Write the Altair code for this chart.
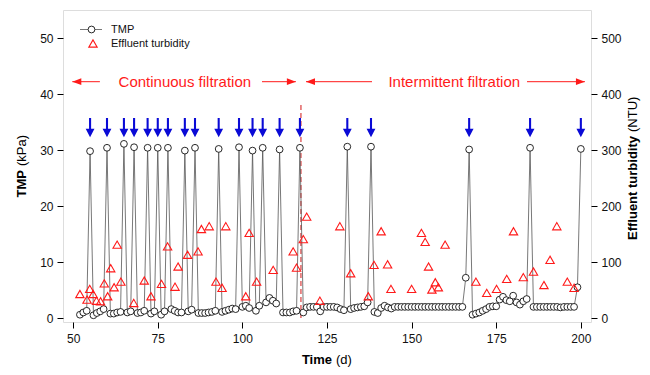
import altair as alt
import pandas as pd

# ---------------- data ----------------
days = list(range(52, 201))
tmp = [
    0.6, 1.0, 1.3, 29.8, 0.5, 0.9, 1.2, 1.6, 30.4, 0.8,      # 52-61
    0.8, 1.0, 1.1, 31.1, 1.0, 1.2, 30.5, 0.9, 1.0, 1.3,      # 62-71
    30.4, 0.8, 1.2, 30.4, 0.6, 1.2, 30.4, 1.6, 1.3, 1.0,     # 72-81
    1.0, 29.9, 1.2, 1.5, 30.4, 0.9, 0.9, 0.9, 1.0, 1.1,      # 82-91
    1.3, 30.2, 1.1, 1.3, 1.5, 1.7, 1.6, 30.5, 2.0, 2.2,      # 92-101
    1.8, 29.9, 1.3, 2.2, 30.4, 2.8, 3.6, 3.1, 2.6, 30.1,     # 102-111
    1.0, 1.0, 1.0, 1.2, 1.3, 30.4, 1.0, 1.9, 2.0, 2.0,       # 112-121
    2.0, 1.2, 2.0, 2.0, 2.0, 2.0, 1.9, 1.6, 1.4, 30.6,       # 122-131
    1.6, 1.8, 1.9, 2.0, 2.1, 2.8, 30.6, 1.1, 0.9, 1.8,       # 132-141
    2.2, 1.9, 1.7, 2.0, 2.0, 2.0, 2.0, 2.0, 2.0, 2.0,        # 142-151
    2.0, 2.0, 2.0, 2.0, 2.0, 2.0, 2.0, 2.0, 2.0, 2.0,        # 152-161
    2.0, 2.0, 2.0, 2.0, 7.2, 30.1, 0.6, 0.8, 1.0, 1.3,       # 162-171
    1.6, 2.0, 2.1, 2.1, 3.3, 3.8, 3.2, 3.0, 4.0, 2.8,        # 172-181
    2.4, 3.0, 3.4, 30.4, 2.0, 2.0, 2.0, 2.0, 2.0, 2.0,       # 182-191
    2.0, 2.0, 1.9, 2.0, 2.0, 2.0, 2.0, 5.5, 30.2,            # 192-200
]

turb_day = [52.0, 54.1, 54.9, 55.9, 56.9, 58.1, 59.2, 60.2, 61.1, 62.1,
            63.0, 64.1, 67.9, 71.0, 73.0, 76.1, 77.9, 80.1, 81.0, 83.8,
            86.9, 87.9, 90.2, 92.2, 94.0, 95.1, 101.0, 102.0, 104.2, 109.1,
            115.0, 116.0, 118.0, 119.0, 122.9, 128.8, 132.0, 137.2, 138.9, 141.0,
            142.9, 143.9, 150.0, 152.9, 154.0, 155.0, 156.0, 157.0, 157.9, 159.9,
            169.0, 172.2, 175.1, 178.1, 180.1, 183.0, 186.0, 189.1, 190.9, 192.9,
            196.0, 198.0]
turb_ntu = [43, 33, 52, 43, 31, 30, 62, 39, 89, 55,
            131, 65, 27, 67, 39, 61, 128, 56, 92, 113,
            119, 159, 164, 65, 54, 164, 39, 152, 65, 86,
            119, 90, 141, 181, 31, 164, 80, 39, 95, 155,
            96, 52, 52, 152, 136, 92, 51, 64, 55, 131,
            65, 45, 52, 70, 155, 73, 83, 59, 104, 164,
            65, 54]

peak_days = [55, 60, 65, 68, 72, 75, 78, 83, 86, 93, 99, 103, 106, 111, 117,
             131, 138, 167, 185, 200]
arrow_tip_tmp = 32.3

x_ticks = [50, 75, 100, 125, 150, 175, 200]
tmp_ticks = [0, 10, 20, 30, 40, 50]
ntu_ticks = [0, 100, 200, 300, 400, 500]

phase_labels = ["Continuous filtration", "Intermittent filtration"]
phase_label_x = [83.0, 162.6]
phase_y = 42.2
phase_arrow_tail = [57.9, 105.8, 138.3, 184.1]
phase_arrow_tip = [49.75, 115.8, 118.8, 201.2]
phase_arrow_dir = ["left", "right", "left", "right"]
switch_day = 117.3
switch_top = 38.5

FONT = "Liberation Sans"
RED = "#ff1a1a"
BLUE = "#0a0ad6"

# ---------------- tables ----------------
df_tmp = pd.DataFrame({"day": days, "tmp": tmp})
df_turb = pd.DataFrame({"day": turb_day, "ntu": turb_ntu})
df_peaks = pd.DataFrame({"day": peak_days, "y": [arrow_tip_tmp] * len(peak_days)})
df_phase = pd.DataFrame({"label": phase_labels, "x": phase_label_x, "y": [phase_y] * 2})
df_arrows = pd.DataFrame({"tail": phase_arrow_tail, "tip": phase_arrow_tip,
                          "dir": phase_arrow_dir, "y": [phase_y] * 4})
df_switch = pd.DataFrame({"x": [switch_day], "y0": [0.0], "y1": [switch_top]})
one = pd.DataFrame({"k": [0]})

xsc = alt.Scale(domain=[47, 203], nice=False, zero=False)
ysc = alt.Scale(domain=[-0.7, 55], nice=False, zero=False)
nsc = alt.Scale(domain=[-7, 550], nice=False, zero=False)

xaxis = alt.Axis(values=x_ticks, title=None, grid=False, domain=False, tickSize=6,
                 tickColor="#000", labelFont=FONT, labelFontSize=12, labelColor="#111",
                 labelPadding=5, format="d")
X = lambda f: alt.X(f, type="quantitative", scale=xsc, axis=xaxis)

yaxis = alt.Axis(values=tmp_ticks, title=None, grid=False, domain=False, tickSize=6,
                 tickColor="#000", labelFont=FONT, labelFontSize=12, labelColor="#111",
                 labelPadding=4, format="d")

line = alt.Chart(df_tmp).mark_line(color="#555", strokeWidth=0.8).encode(
    x=X("day"), y=alt.Y("tmp:Q", scale=ysc, axis=yaxis))
circles = alt.Chart(df_tmp).mark_point(shape="circle", size=46, fill="white", fillOpacity=1,
                                        stroke="#111", strokeWidth=0.9, opacity=1).encode(
    x=X("day"), y=alt.Y("tmp:Q", scale=ysc, axis=yaxis))

blue_arrow_path = "M0,0L-0.55,-1.05L-0.13,-1.05L-0.13,-2.4L0.13,-2.4L0.13,-1.05L0.55,-1.05Z"
blue_arrows = alt.Chart(df_peaks).mark_point(shape=blue_arrow_path, size=256, filled=True,
                                              color=BLUE, opacity=1, strokeWidth=0).encode(
    x=X("day"), y=alt.Y("y:Q", scale=ysc, axis=yaxis))

switch_rule = alt.Chart(df_switch).mark_rule(color="#e05a5a", strokeWidth=1.4,
                                             strokeDash=[5, 3]).encode(
    x=X("x"), y=alt.Y("y0:Q", scale=ysc, axis=yaxis), y2="y1:Q")

phase_text = alt.Chart(df_phase).mark_text(font=FONT, fontSize=15, color=RED,
                                           baseline="middle", align="center").encode(
    x=X("x"), y=alt.Y("y:Q", scale=ysc, axis=yaxis), text="label:N")

phase_lines = alt.Chart(df_arrows).mark_rule(color=RED, strokeWidth=1).encode(
    x=X("tail"), x2="tip:Q", y=alt.Y("y:Q", scale=ysc, axis=yaxis))
left_heads = alt.Chart(df_arrows).transform_filter(alt.datum.dir == "left").mark_point(
    shape="M0,0L2,-0.75L2,0.75Z", size=81, filled=True, color=RED, opacity=1, strokeWidth=0).encode(
    x=X("tip"), y=alt.Y("y:Q", scale=ysc, axis=yaxis))
right_heads = alt.Chart(df_arrows).transform_filter(alt.datum.dir == "right").mark_point(
    shape="M0,0L-2,-0.75L-2,0.75Z", size=81, filled=True, color=RED, opacity=1, strokeWidth=0).encode(
    x=X("tip"), y=alt.Y("y:Q", scale=ysc, axis=yaxis))

# legend (inside plot, top-left)
leg_line = alt.Chart(one).mark_rule(color="#555", strokeWidth=0.8).encode(
    x=alt.value(17), x2=alt.value(39), y=alt.value(19.5))
leg_circle = alt.Chart(one).mark_point(shape="circle", size=46, fill="white", fillOpacity=1,
                                       stroke="#111", strokeWidth=0.9, opacity=1).encode(
    x=alt.value(28.5), y=alt.value(19.5))
leg_tri = alt.Chart(one).mark_point(shape="triangle-up", size=70, stroke=RED, strokeWidth=1.1,
                                    opacity=1).encode(x=alt.value(30), y=alt.value(33.5))
leg_t1 = alt.Chart(one).mark_text(font=FONT, fontSize=11, align="left", baseline="middle",
                                  color="#111").encode(x=alt.value(48), y=alt.value(19.5),
                                                       text=alt.value("TMP"))
leg_t2 = alt.Chart(one).mark_text(font=FONT, fontSize=11, align="left", baseline="middle",
                                  color="#111").encode(x=alt.value(48), y=alt.value(33.5),
                                                       text=alt.value("Effluent turbidity"))

# axis titles (bold word + regular unit)
def title_piece(txt, x, y, bold, align, angle=0):
    return alt.Chart(one).mark_text(font=FONT, fontSize=13, fontWeight="bold" if bold else "normal",
                                    align=align, baseline="middle", angle=angle,
                                    color="#000").encode(x=alt.value(x), y=alt.value(y),
                                                         text=alt.value(txt))

titles = [
    title_piece("Time", 269, 350, True, "right"),
    title_piece("(d)", 273, 350, False, "left"),
    title_piece("TMP", -41, 160, True, "right", 270),
    title_piece("(kPa)", -41, 156, False, "left", 270),
    title_piece("Effluent turbidity", 570, 126, True, "right", 270),
    title_piece("(NTU)", 570, 122, False, "left", 270),
]

tmp_group = alt.layer(switch_rule, line, circles, blue_arrows, phase_lines, left_heads,
                      right_heads, phase_text, leg_line, leg_circle, leg_tri, leg_t1, leg_t2,
                      *titles)

naxis = alt.Axis(values=ntu_ticks, orient="right", title=None, grid=False, domain=False,
                 tickSize=6, tickColor="#000", labelFont=FONT, labelFontSize=12,
                 labelColor="#111", labelPadding=4, format="d")
turb = alt.Chart(df_turb).mark_point(shape="triangle-up", size=70, stroke=RED, strokeWidth=1.1,
                                     opacity=1).encode(
    x=X("day"), y=alt.Y("ntu:Q", scale=nsc, axis=naxis))

chart = alt.layer(tmp_group, turb).resolve_scale(y="independent").properties(
    width=528, height=312,
    autosize=alt.AutoSizeParams(type="none"),
    padding={"left": 55, "top": 2, "right": 51, "bottom": 45},
).configure_view(stroke="#000", strokeWidth=1).configure(background="white")

chart.save("out.html", embed_options={"renderer": "svg", "actions": False})
